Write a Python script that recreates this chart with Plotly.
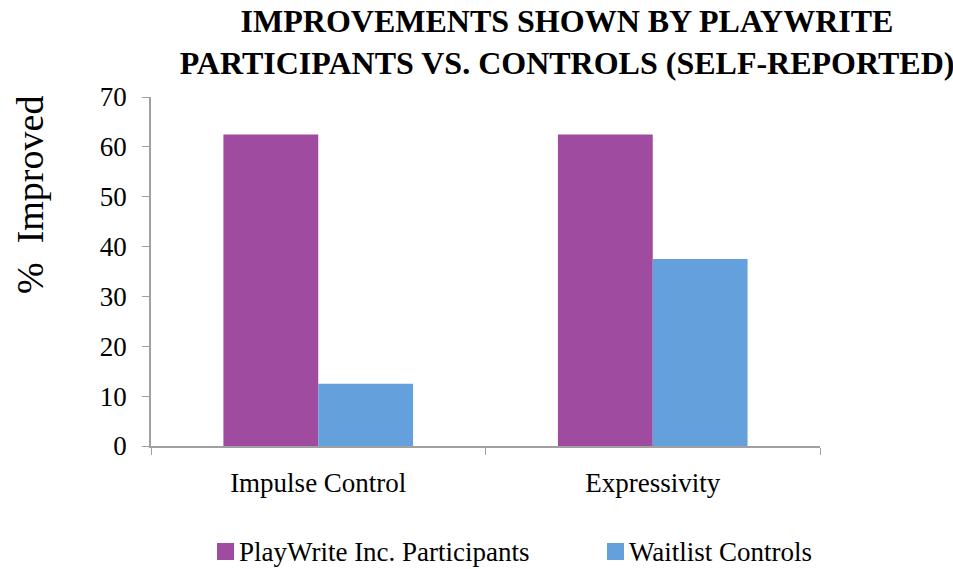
import plotly.graph_objects as go

categories = ["Impulse Control", "Expressivity"]
participants = [62.5, 62.5]
controls = [12.5, 37.5]
series_names = ["PlayWrite Inc. Participants", "Waitlist Controls"]
colors = ["#9E4BA0", "#63A0DC"]

FONT = "Liberation Serif"
W, H = 953, 569

fig = go.Figure()
fig.add_trace(go.Bar(x=categories, y=participants, name=series_names[0],
                     marker=dict(color=colors[0], line=dict(width=0))))
fig.add_trace(go.Bar(x=categories, y=controls, name=series_names[1],
                     marker=dict(color=colors[1], line=dict(width=0))))

# manual legend (square marker close to text, as in the reference)
legend_x = [217, 607]  # pixel left edge of each marker
for name, col, lx in zip(series_names, colors, legend_x):
    fig.add_shape(type="rect", xref="paper", yref="paper",
                  x0=(lx - 151) / 669, x1=(lx + 17 - 151) / 669,
                  y0=(446 - 560) / 349, y1=(446 - 543) / 349,
                  fillcolor=col, line=dict(width=0))
    fig.add_annotation(text=name, xref="paper", yref="paper",
                       x=(lx + 20 - 151) / 669, y=(446 - 552) / 349,
                       xanchor="left", yanchor="middle", showarrow=False,
                       font=dict(family=FONT, size=27, color="black"))

# y-axis title placed like the reference (above centre)
fig.add_annotation(text="%  Improved", xref="paper", yref="paper",
                   x=(30 - 151) / 669, y=(446 - 195) / 349,
                   xanchor="center", yanchor="middle", showarrow=False,
                   textangle=-90,
                   font=dict(family=FONT, size=38, color="black"))

fig.update_layout(
    width=W, height=H,
    margin=dict(l=151, r=133, t=97, b=123),
    paper_bgcolor="white", plot_bgcolor="white",
    barmode="group", bargap=0.433, bargroupgap=0,
    showlegend=False,
    font=dict(family=FONT, color="black"),
    title=dict(
        text="<b>IMPROVEMENTS SHOWN BY PLAYWRITE<br>PARTICIPANTS VS. CONTROLS (SELF-REPORTED)</b>",
        x=0.595, xref="container", xanchor="center",
        y=0.943, yref="container", yanchor="top",
        font=dict(family=FONT, size=32, color="black"),
    ),
    xaxis=dict(
        showline=True, linecolor="#A0A0A0", linewidth=1.5,
        ticks="outside", tickson="boundaries", ticklen=7, tickcolor="#A0A0A0",
        tickfont=dict(family=FONT, size=27, color="black"),
        ticklabelstandoff=12,
        showgrid=False,
    ),
    yaxis=dict(
        range=[0, 70], dtick=10,
        showline=True, linecolor="#A0A0A0", linewidth=1.5,
        ticks="outside", ticklen=7, tickcolor="#A0A0A0",
        tickfont=dict(family=FONT, size=27, color="black"),
        ticklabelstandoff=10,
        showgrid=False, zeroline=False,
    ),
)

fig.write_html("out.html")
